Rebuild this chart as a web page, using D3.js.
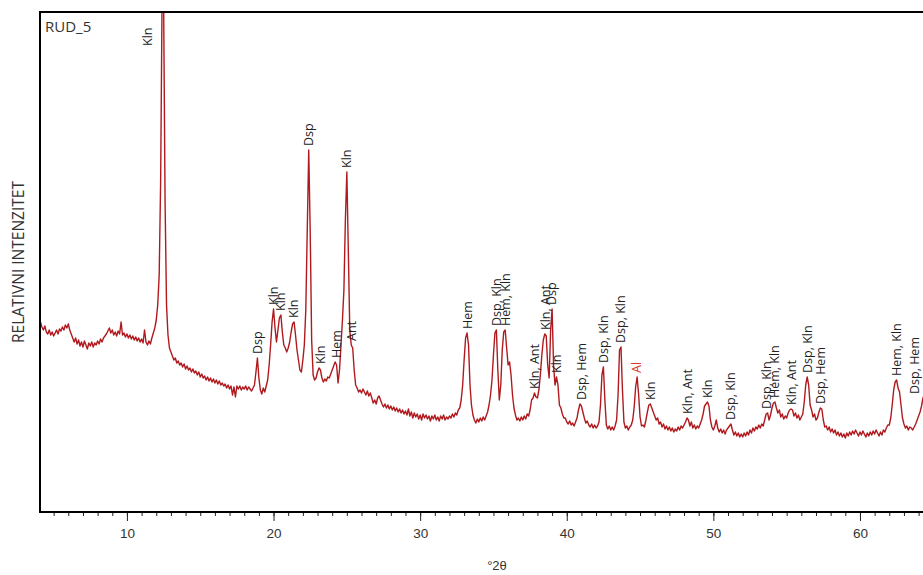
<!DOCTYPE html>
<html><head><meta charset="utf-8">
<script src="https://cdn.jsdelivr.net/npm/d3@7"></script>
<style>
html,body{margin:0;padding:0;background:#fff;}
svg{display:block;}
</style></head><body>
<svg id="c" width="923" height="575"></svg>
<script>
const SAMPLE_NAME = "RUD_5";
const X_TITLE = "°2θ";
const Y_TITLE = "RELATIVNI INTENZITET";
const X_TICKS = [10, 20, 30, 40, 50, 60];
// step-scan: first angle and step (°2θ), one row per degree
const SCAN_START = 4.0, SCAN_STEP = 0.1;
const INTENSITY = [
  187,190,185,182,186,180,178,182,177,180,
  176,179,182,178,183,181,185,182,187,184,
  188,182,178,174,170,174,168,172,166,170,
  165,171,167,163,169,166,170,165,169,167,
  171,168,173,170,174,176,178,181,184,179,
  182,177,180,176,181,178,190,177,179,175,
  178,174,177,173,176,172,175,171,174,170,
  173,169,182,170,167,171,168,174,179,184,
  192,207,237,332,520,515,312,207,177,164,
  160,156,152,154,149,151,147,149,145,148,
  143,146,142,144,140,143,139,141,137,140,
  135,138,134,136,132,135,131,134,130,133,
  129,132,128,131,127,129,126,128,124,127,
  123,126,117,125,115,126,123,126,122,125,
  123,126,122,125,123,121,124,127,140,154,
  134,122,118,124,120,126,132,147,167,190,
  203,184,170,182,194,197,180,167,164,160,
  164,170,180,188,190,177,162,152,142,140,
  152,167,202,282,362,282,172,137,132,134,
  140,144,142,134,130,133,131,135,134,138,
  142,146,150,147,129,142,167,192,222,292,
  340,262,182,167,164,142,127,124,120,122,
  119,123,120,117,121,116,119,114,109,112,
  108,114,116,112,108,105,108,104,107,103,
  106,102,105,101,104,100,103,99,102,98,
  101,97,103,96,100,94,99,95,98,93,
  97,92,98,94,97,93,96,91,96,93,
  97,92,95,91,96,93,97,92,95,93,
  96,94,98,95,99,97,102,104,112,127,
  152,174,179,167,127,107,97,92,89,93,
  90,94,91,95,92,96,100,107,117,132,
  157,179,182,142,112,127,162,180,182,164,
  147,150,137,117,104,97,92,94,91,95,
  92,96,93,98,96,102,112,114,119,115,
  114,122,137,157,172,178,176,147,134,182,
  203,147,127,135,127,107,104,98,94,94,
  90,88,91,87,89,86,90,94,102,108,
  106,100,94,89,91,87,85,88,84,87,
  84,86,90,107,137,145,112,87,83,86,
  82,85,82,86,92,117,162,165,122,90,
  84,86,82,85,87,92,105,125,135,118,
  95,86,87,85,92,100,107,108,104,100,
  96,92,94,88,90,85,88,83,86,82,
  85,81,84,80,83,81,85,82,86,84,
  87,90,94,92,86,90,84,87,83,86,
  84,88,92,98,106,108,110,106,92,85,
  82,86,92,84,80,83,79,82,78,82,
  84,86,88,82,77,80,76,79,75,78,
  75,79,76,80,77,82,79,84,81,85,
  83,87,84,88,86,92,98,99,92,97,
  104,109,110,104,99,102,95,98,93,96,
  94,99,102,103,102,96,99,94,97,92,
  95,98,110,127,135,127,107,102,95,98,
  92,94,100,104,103,92,85,86,82,85,
  80,83,79,82,77,80,76,79,75,78,
  74,79,76,80,77,81,78,82,79,76,
  80,77,81,78,75,79,76,80,77,81,
  78,82,79,76,80,77,82,80,84,87,
  87,94,107,122,130,132,124,120,107,94,
  88,84,86,82,85,84,82,85,88,92,
  96,100,106,114,118,112,100
];
const PEAK_ANGLES = [12.45, 18.9, 20.0, 20.5, 21.4, 22.4, 23.2, 24.3, 25.0, 25.35,
  33.25, 35.2, 35.8, 37.8, 38.55, 39.0, 39.3, 41.0, 42.5, 43.7, 44.8, 45.7,
  48.25, 49.6, 51.2, 53.65, 54.15, 55.35, 56.4, 57.35, 62.5, 64.25];
const PEAK_LABELS = ["Kln","Dsp","Kln","Kln","Kln","Dsp","Kln","Hem","Kln","Ant",
  "Hem","Dsp, Kln","Hem, Kln","Kln, Ant","Kln, Ant","Dsp","Kln","Dsp, Hem","Dsp, Kln","Dsp, Kln","Al","Kln",
  "Kln, Ant","Kln","Dsp, Kln","Dsp, Kln","Hem, Kln","Kln, Ant","Dsp, Kln","Dsp, Hem","Hem, Kln","Dsp, Hem"];
const INTERNAL_STANDARD = "Al";

const svg = d3.select("#c");
const L = 40, T = 12, B = 512, R = 923;
const x = d3.scaleLinear().domain([4.07, 64.3]).range([L, R]);
const y = d3.scaleLinear().domain([0, 500]).range([B, T]);

const pts = INTENSITY.map((v, i) => [+(SCAN_START + i * SCAN_STEP).toFixed(2), v]);

svg.append("defs").append("clipPath").attr("id", "clip")
  .append("rect").attr("x", L).attr("y", T).attr("width", R - L + 10).attr("height", B - T);

svg.append("path").datum(pts)
  .attr("clip-path", "url(#clip)")
  .attr("fill", "none")
  .attr("stroke", "#b01a1e")
  .attr("stroke-width", 1.4)
  .attr("stroke-linejoin", "round")
  .attr("d", d3.line().x(d => x(d[0])).y(d => y(d[1])));

// peak labels
const lab = svg.append("g").attr("font-family", "'Open Sans', 'Noto Sans', sans-serif").attr("font-size", "12.5px");
PEAK_ANGLES.forEach((a, i) => {
  const win = pts.filter(p => Math.abs(p[0] - a) <= 0.121);
  const peak = d3.max(win, p => p[1]);
  let px = Math.min(x(a), R - 8), py;
  if (peak > y.domain()[1]) { px = x(a) - 15; py = T + 34; }
  else { py = y(peak) - 4; }
  lab.append("text")
    .attr("transform", `translate(${px},${py}) rotate(-90)`)
    .attr("dy", "0.35em")
    .attr("fill", PEAK_LABELS[i] === INTERNAL_STANDARD ? "#e0352d" : "#222")
    .text(PEAK_LABELS[i]);
});

// axes
const minor = d3.range(Math.ceil(x.domain()[0]), x.domain()[1], 1);
const gMinor = svg.append("g").attr("transform", `translate(0,${B})`)
  .call(d3.axisBottom(x).tickValues(minor).tickSize(4).tickFormat(""));
gMinor.select(".domain").remove();
gMinor.selectAll("line").attr("stroke", "#222");
const gMajor = svg.append("g").attr("transform", `translate(0,${B})`)
  .call(d3.axisBottom(x).tickValues(X_TICKS).tickSize(9).tickPadding(7).tickFormat(d3.format("d")));
gMajor.select(".domain").remove();
gMajor.selectAll("line").attr("stroke", "#222");
gMajor.selectAll("text").attr("font-family", "'Liberation Sans', Arial, sans-serif")
  .attr("font-size", "13.5px").attr("fill", "#333");

// frame
svg.append("path").attr("fill", "none").attr("stroke", "#000").attr("stroke-width", 2)
  .attr("d", `M${R + 5},${T}H${L}V${B}H${R + 5}`);

svg.append("text").attr("x", 45).attr("y", 32)
  .attr("font-family", "'Open Sans', sans-serif").attr("font-size", "15px").attr("fill", "#333")
  .text(SAMPLE_NAME);

svg.append("text").attr("x", 497).attr("y", 570).attr("text-anchor", "middle")
  .attr("font-family", "'Liberation Sans', Arial, sans-serif").attr("font-size", "13px").attr("fill", "#333")
  .text(X_TITLE);

svg.append("text").attr("transform", "translate(19,262) rotate(-90)")
  .attr("text-anchor", "middle").attr("dy", "0.35em")
  .attr("font-family", "'Open Sans', sans-serif").attr("font-size", "15.5px").attr("fill", "#333")
  .text(Y_TITLE);
</script>
</body></html>
